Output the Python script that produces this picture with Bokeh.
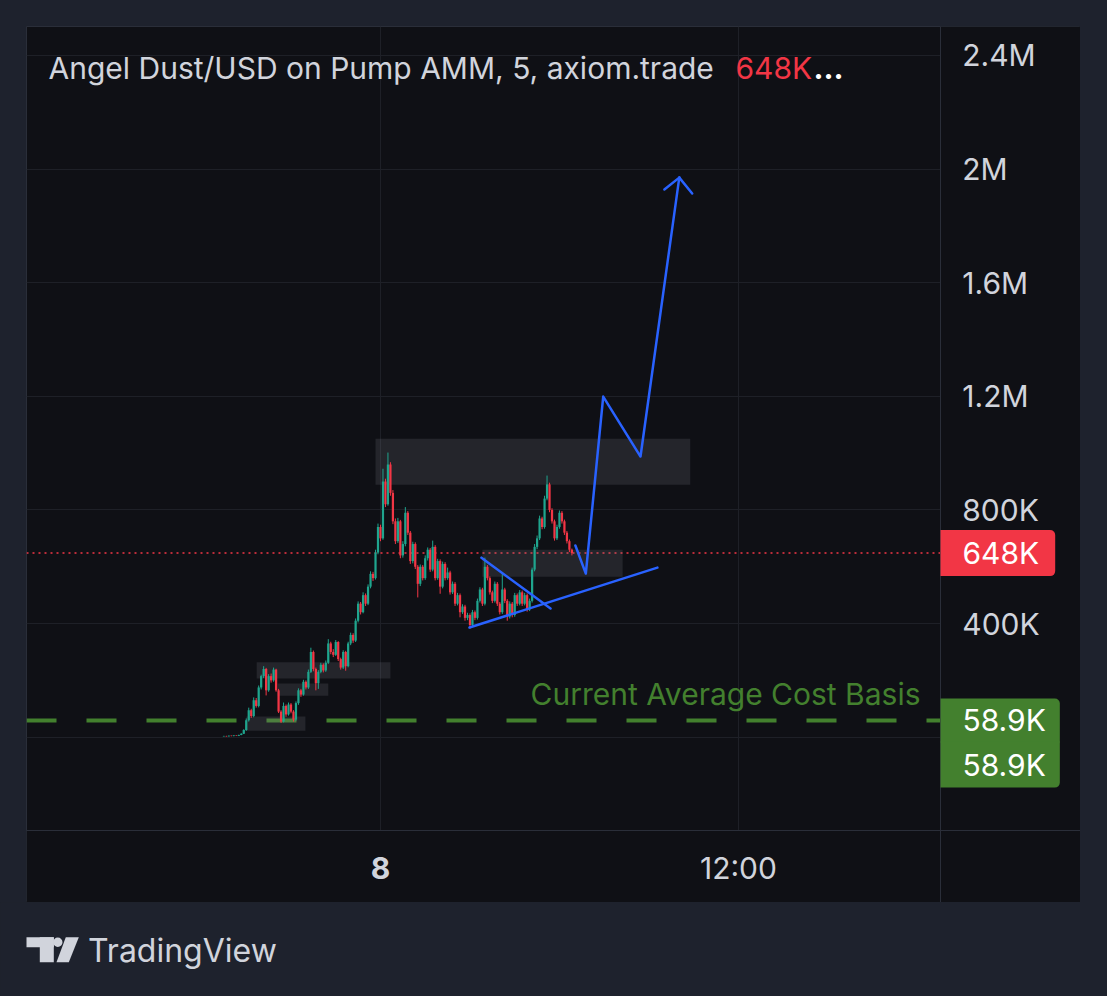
import re
from datetime import datetime, timedelta
from bokeh.plotting import figure
from bokeh.models import (Range1d, LinearAxis, DatetimeAxis, FixedTicker, Grid, Span,
                          Label, ColumnDataSource, Spacer)
from bokeh.layouts import column, row
from bokeh.embed import file_html
from bokeh.resources import INLINE

FONT = "Inter"
BG = "#0f1015"
PAGE = "#1e222d"
TXT = "#d1d4dc"
GRID = "#1e2027"
SEP = "#2a2e39"
UP = "#1fa58e"
DOWN = "#f23645"
GREEN = "#43802e"
BLUE = "#2962ff"
ZONE = "#787b86"
FS = "30px"

# ---------------- data ----------------
symbol_title = "Angel Dust/USD on Pump AMM, 5, axiom.trade"
last_price_label = "648K"
last_price = 648e3
cost_basis = 58.9e3
cost_basis_label = "58.9K"
cost_basis_text = "Current Average Cost Basis"

first_bar = datetime(2025, 6, 7, 18, 45)
bar_minutes = 5
first_open = 3  # K

closes = [4, 3, 5, 4, 6, 5, 8, 12, 25, 60,
          95, 75, 130, 110, 175, 215, 240, 165, 215, 200,
          238, 165, 90, 55, 110, 80, 115, 90, 62, 120,
          165, 150, 195, 175, 230, 300, 240, 190, 230, 255,
          235, 262, 330, 300, 290, 335, 275, 245, 300, 250,
          330, 360, 340, 410, 470, 440, 500, 470, 530, 575,
          560, 650, 740, 700, 900, 820, 960, 860, 760, 690,
          760, 640, 680, 790, 720, 620, 680, 600, 540, 600,
          560, 630, 660, 590, 670, 560, 620, 530, 610, 560,
          580, 510, 540, 470, 500, 440, 460, 420, 430, 395,
          440, 420, 480, 520, 470, 600, 560, 510, 480, 540,
          470, 440, 520, 480, 425, 470, 430, 500, 470, 510,
          470, 500, 450, 480, 590, 670, 700, 770, 740, 840,
          890, 800, 760, 700, 740, 790, 760, 720, 690, 660,
          648]
highs = [5, 5, 6, 6, 7, 7, 9, 14, 28, 66,
         104, 100, 140, 138, 182, 220, 250, 244, 222, 224,
         245, 241, 170, 95, 122, 115, 122, 120, 95, 126,
         172, 170, 202, 200, 238, 315, 305, 245, 236, 262,
         260, 270, 345, 336, 310, 342, 338, 280, 306, 304,
         336, 368, 366, 418, 478, 476, 510, 506, 538, 584,
         582, 660, 752, 748, 945, 910, 1002, 968, 870, 770,
         772, 765, 690, 810, 796, 726, 688, 686, 606, 608,
         606, 640, 668, 666, 692, 676, 628, 626, 618, 616,
         597, 586, 548, 546, 508, 506, 468, 466, 438, 436,
         448, 446, 488, 528, 526, 632, 606, 566, 516, 548,
         546, 476, 580, 526, 486, 478, 476, 508, 506, 518,
         516, 508, 506, 488, 597, 680, 710, 780, 776, 850,
         921, 896, 806, 766, 748, 798, 796, 766, 726, 696,
         664]
lows = [2, 2, 2, 3, 3, 4, 4, 7, 11, 22,
        55, 68, 70, 104, 105, 168, 208, 147, 160, 192,
        195, 160, 85, 50, 52, 72, 76, 84, 55, 58,
        114, 142, 146, 168, 170, 226, 232, 165, 170, 225,
        228, 230, 258, 292, 282, 286, 268, 238, 240, 234,
        246, 324, 332, 335, 404, 432, 436, 462, 465, 524,
        550, 555, 644, 690, 695, 810, 815, 850, 750, 680,
        684, 630, 632, 672, 712, 610, 612, 592, 492, 532,
        552, 554, 622, 582, 584, 552, 554, 505, 524, 552,
        554, 502, 504, 462, 464, 422, 434, 410, 412, 382,
        388, 412, 414, 474, 462, 464, 552, 502, 472, 474,
        462, 432, 434, 472, 410, 418, 422, 424, 462, 464,
        462, 464, 442, 444, 474, 584, 662, 694, 732, 734,
        834, 792, 752, 692, 694, 734, 752, 712, 682, 652,
        640]

# gray zones drawn on the chart (start, end, top K, bottom K)
zone_start = ["2025-06-07 23:50", "2025-06-08 03:25", "2025-06-07 19:51",
              "2025-06-07 20:33", "2025-06-07 19:30"]
zone_end = ["2025-06-08 10:23", "2025-06-08 08:07", "2025-06-08 00:20",
            "2025-06-07 22:15", "2025-06-07 21:29"]
zone_top = [1051, 660, 264, 189, 73]
zone_bottom = [889, 565, 207, 146, 23]

# blue drawings (time, price K)
path_t = ["2025-06-08 06:32", "2025-06-08 06:53", "2025-06-08 07:28",
          "2025-06-08 08:43", "2025-06-08 10:01"]
path_p = [675, 576, 1199, 988, 1970]
arrow_l_t = ["2025-06-08 09:31", "2025-06-08 10:01"]
arrow_l_p = [1928, 1970]
arrow_r_t = ["2025-06-08 10:27", "2025-06-08 10:01"]
arrow_r_p = [1914, 1970]
tri_down_t = ["2025-06-08 03:23", "2025-06-08 05:42"]
tri_down_p = [632, 453]
tri_up_t = ["2025-06-08 02:59", "2025-06-08 09:17"]
tri_up_p = [386, 597]

ytick_vals = [0, 400e3, 800e3, 1.2e6, 1.6e6, 2e6, 2.4e6]
ytick_labels = ["", "400K", "800K", "1.2M", "1.6M", "2M", "2.4M"]
midnight = datetime(2025, 6, 8, 0, 0)
noon = datetime(2025, 6, 8, 12, 0)
day_label = "8"
noon_label = "12:00"

# chart panel: plot area + price scale + time scale
x_left = datetime(2025, 6, 7, 12, 8)       # left edge of the panel
x_scale_edge = datetime(2025, 6, 8, 18, 46)  # plot area / price scale border
x_right = datetime(2025, 6, 8, 23, 28)     # right edge of price scale
y_top = 2502e3
y_scale_edge = -329e3                      # plot area / time scale border
y_bottom = -582e3


def to_ms(d):
    return (d - datetime(1970, 1, 1)).total_seconds() * 1000.0


def ts(s):
    return datetime.strptime(s, "%Y-%m-%d %H:%M")


# ---------------- build ----------------
times = [first_bar + timedelta(minutes=bar_minutes * i) for i in range(len(closes))]
opens = [first_open] + closes[:-1]
colors = [UP if c >= o else DOWN for o, c in zip(opens, closes)]
src = ColumnDataSource(dict(
    t=times,
    o=[v * 1e3 for v in opens], c=[v * 1e3 for v in closes],
    h=[v * 1e3 for v in highs], l=[v * 1e3 for v in lows],
    color=colors))

p = figure(width=1054, height=876,
           x_range=Range1d(x_left, x_right), y_range=Range1d(y_bottom, y_top),
           x_axis_type=None, y_axis_type=None,
           toolbar_location=None, output_backend="svg",
           background_fill_color=BG, border_fill_color=BG,
           min_border=0, outline_line_color=SEP, outline_line_width=1)

p.add_layout(Grid(dimension=0, ticker=FixedTicker(ticks=[to_ms(midnight), to_ms(noon)]),
                  grid_line_color=GRID, grid_line_width=1))
p.add_layout(Grid(dimension=1, ticker=FixedTicker(ticks=ytick_vals),
                  grid_line_color=GRID, grid_line_width=1))

# zones
zsrc = ColumnDataSource(dict(
    left=[ts(s) for s in zone_start], right=[ts(s) for s in zone_end],
    top=[v * 1e3 for v in zone_top], bottom=[v * 1e3 for v in zone_bottom]))
p.quad(left="left", right="right", top="top", bottom="bottom", source=zsrc,
       fill_color=ZONE, fill_alpha=0.2, line_color=None)

# cost basis line and last price line
p.add_layout(Span(location=cost_basis, dimension="width", line_color=GREEN,
                  line_width=4, line_dash="30 30", level="underlay"))
p.add_layout(Span(location=last_price, dimension="width", line_color=DOWN,
                  line_width=1.5, line_dash="2 4", level="underlay"))

# candles
p.segment(x0="t", x1="t", y0="l", y1="h", color="color", line_width=1, source=src)
p.vbar(x="t", width=bar_minutes * 60 * 1000 * 0.9, top="o", bottom="c",
       fill_color="color", line_color=None, source=src)

# blue drawings
for tt, pp in [(path_t, path_p), (arrow_l_t, arrow_l_p), (arrow_r_t, arrow_r_p),
               (tri_down_t, tri_down_p), (tri_up_t, tri_up_p)]:
    p.line([ts(s) for s in tt], [v * 1e3 for v in pp], line_color=BLUE,
           line_width=2.5, line_join="round", line_cap="round")

# scale panels background (price scale on the right, time scale below)
p.quad(left=[x_scale_edge, x_left], right=[x_right, x_right],
       top=[y_top, y_scale_edge], bottom=[y_bottom, y_bottom],
       fill_color=BG, line_color=None)

# axes, fixed at the panel borders
yax = LinearAxis(ticker=FixedTicker(ticks=ytick_vals),
                 major_label_overrides=dict(zip(ytick_vals, ytick_labels)),
                 fixed_location=to_ms(x_scale_edge),
                 axis_line_color=SEP, axis_line_width=1,
                 major_tick_line_color=None, minor_tick_line_color=None,
                 major_tick_in=0, major_tick_out=0,
                 major_label_text_color=TXT, major_label_text_font=FONT,
                 major_label_text_font_size=FS, major_label_standoff=22)
p.add_layout(yax, "right")

xax = DatetimeAxis(ticker=FixedTicker(ticks=[to_ms(noon)]),
                   major_label_overrides={to_ms(noon): noon_label},
                   fixed_location=y_scale_edge,
                   axis_line_color=SEP, axis_line_width=1,
                   major_tick_line_color=None, minor_tick_line_color=None,
                   major_tick_in=0, major_tick_out=0,
                   major_label_text_color=TXT, major_label_text_font=FONT,
                   major_label_text_font_size=FS, major_label_standoff=19)
p.add_layout(xax, "below")

# texts
p.add_layout(Label(x=22, y=835, x_units="screen", y_units="screen", text=symbol_title,
                   text_color=TXT, text_font=FONT, text_font_size=FS,
                   text_baseline="middle", text_align="left"))
p.add_layout(Label(x=709, y=835, x_units="screen", y_units="screen", text=last_price_label,
                   text_color=DOWN, text_font=FONT, text_font_size=FS,
                   text_baseline="middle", text_align="left"))
p.add_layout(Label(x=787, y=835, x_units="screen", y_units="screen", text="\u2026",
                   text_color="#ffffff", text_font=FONT, text_font_size=FS,
                   text_font_style="bold", text_baseline="middle", text_align="left"))
p.add_layout(Label(x=894, y=209, x_units="screen", y_units="screen", text=cost_basis_text,
                   text_color=GREEN, text_font=FONT, text_font_size=FS,
                   text_baseline="middle", text_align="right"))
p.add_layout(Label(x=to_ms(midnight), y=35, y_units="screen", text=day_label,
                   text_color=TXT, text_font=FONT, text_font_size=FS,
                   text_font_style="bold", text_baseline="middle", text_align="center"))

# price labels on the scale (box starts at the plot/scale border)
p.add_layout(Label(x=914, x_units="screen", y=last_price, text=last_price_label,
                   text_color="#ffffff", text_font=FONT, text_font_size=FS,
                   text_baseline="middle", text_align="left",
                   background_fill_color=DOWN,
                   padding=dict(left=22, right=16, top=5, bottom=5),
                   border_radius=dict(top_left=0, top_right=5, bottom_right=5, bottom_left=0)))
p.add_layout(Label(x=914, x_units="screen", y=cost_basis, text=cost_basis_label,
                   text_color="#ffffff", text_font=FONT, text_font_size=FS,
                   text_baseline="middle", text_align="left",
                   background_fill_color=GREEN,
                   padding=dict(left=22, right=14, top=4, bottom=4),
                   border_radius=dict(top_left=0, top_right=5, bottom_right=0, bottom_left=0)))
p.add_layout(Label(x=914, x_units="screen", y=-96.5e3, text=cost_basis_label,
                   text_color="#ffffff", text_font=FONT, text_font_size=FS,
                   text_baseline="middle", text_align="left",
                   background_fill_color=GREEN,
                   padding=dict(left=22, right=14, top=5, bottom=5),
                   border_radius=dict(top_left=0, top_right=0, bottom_right=5, bottom_left=0)))

# ---------------- footer with TradingView logo ----------------
f = figure(width=320, height=94, x_range=Range1d(0, 320), y_range=Range1d(0, 94),
           x_axis_type=None, y_axis_type=None, toolbar_location=None,
           output_backend="svg", background_fill_color=PAGE, border_fill_color=PAGE,
           min_border=0, outline_line_color=None)
f.quad(left=[26, 39.3], right=[53.3, 53.3], top=[59.3, 59.3], bottom=[49.3, 34.3],
       fill_color=TXT, line_color=None)
f.circle(x=[57.3], y=[54.3], radius=4.7, fill_color=TXT, line_color=None)
f.patch(x=[65.3, 78.3, 68.3, 56], y=[59.3, 59.3, 34.3, 34.3], fill_color=TXT, line_color=None)
f.add_layout(Label(x=87.5, y=46, text="TradingView", text_color=TXT, text_font=FONT,
                   text_font_size="32px", text_baseline="middle", text_align="left"))

layout = column(Spacer(width=1080, height=26),
                row(Spacer(width=26, height=876), p),
                f)

html = file_html(layout, INLINE, title="Angel Dust/USD")
html = re.sub(r"<body[^>]*>", '<body style="background-color:#1e222d;">', html, count=1)
html = html.replace("</head>",
                    "<style>html, body { background-color: #1e222d !important; }</style></head>", 1)
open("out.html", "w").write(html)
